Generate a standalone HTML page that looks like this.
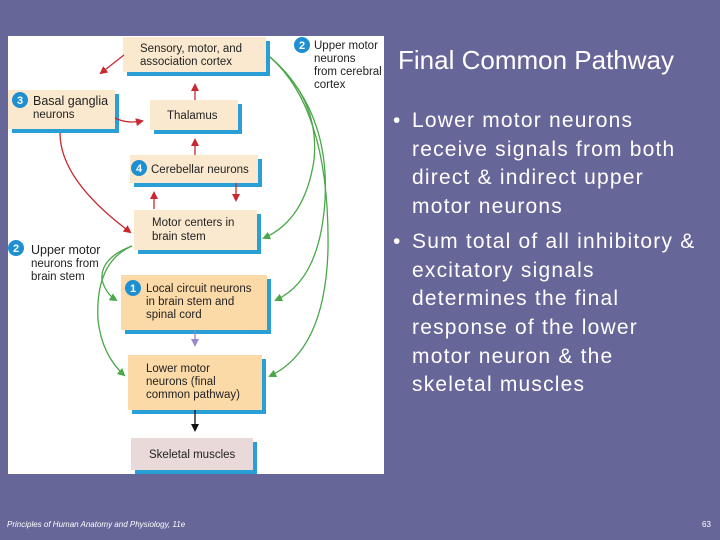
<!DOCTYPE html>
<html><head><style>
body{margin:0;width:720px;height:540px;background:#666699;position:relative;overflow:hidden;font-family:"Liberation Sans",sans-serif}
.t{position:absolute;color:#fff}
ul{position:absolute;left:393px;top:107px;margin:0;padding:0;list-style:none;color:#fff;font-size:21px;line-height:28.7px;width:330px;letter-spacing:1.2px;white-space:nowrap}
li{position:relative;padding-left:19px}
li+li{margin-top:6px}
li:before{content:"•";position:absolute;left:0}
</style></head><body>
<svg width="720" height="540" style="position:absolute;left:0;top:0" font-family="Liberation Sans, sans-serif">
<defs>
<marker id="r" markerWidth="8" markerHeight="8" refX="6" refY="4" orient="auto" markerUnits="userSpaceOnUse"><path d="M0,0 L8,4 L0,8 Z" fill="#c8282e"/></marker>
<marker id="g" markerWidth="8" markerHeight="8" refX="6" refY="4" orient="auto" markerUnits="userSpaceOnUse"><path d="M0,0 L8,4 L0,8 Z" fill="#4aa84a"/></marker>
<marker id="p" markerWidth="8" markerHeight="8" refX="6" refY="4" orient="auto" markerUnits="userSpaceOnUse"><path d="M0,0 L8,4 L0,8 Z" fill="#9a88c8"/></marker>
<marker id="k" markerWidth="8" markerHeight="8" refX="6" refY="4" orient="auto" markerUnits="userSpaceOnUse"><path d="M0,0 L8,4 L0,8 Z" fill="#111"/></marker>
</defs>
<rect x="8" y="36" width="376" height="438" fill="#fff"/>
<g fill="#2a9fd6">
<rect x="127" y="41" width="143" height="35"/>
<rect x="12" y="94" width="107" height="39"/>
<rect x="154" y="104" width="88" height="30"/>
<rect x="134" y="159" width="128" height="28"/>
<rect x="138" y="214" width="123" height="40"/>
<rect x="125" y="279" width="146" height="55"/>
<rect x="132" y="359" width="134" height="55"/>
<rect x="135" y="442" width="122" height="32"/>
</g>
<rect x="123" y="37" width="143" height="35" fill="#fbe9cf"/>
<rect x="8" y="90" width="107" height="39" fill="#fbe9cf"/>
<rect x="150" y="100" width="88" height="30" fill="#fbe9cf"/>
<rect x="130" y="155" width="128" height="28" fill="#fbe9cf"/>
<rect x="134" y="210" width="123" height="40" fill="#fbe9cf"/>
<rect x="121" y="275" width="146" height="55" fill="#fcdaa8"/>
<rect x="128" y="355" width="134" height="55" fill="#fcdaa8"/>
<rect x="131" y="438" width="122" height="32" fill="#e9d9d9"/>
<g font-size="11.5" fill="#222">
<text x="140" y="52">Sensory, motor, and</text>
<text x="140" y="65">association cortex</text>
<text x="33" y="105" font-size="12.5">Basal ganglia</text>
<text x="33" y="118">neurons</text>
<text x="167" y="119">Thalamus</text>
<text x="151" y="173">Cerebellar neurons</text>
<text x="152" y="226">Motor centers in</text>
<text x="152" y="240">brain stem</text>
<text x="146" y="292">Local circuit neurons</text>
<text x="146" y="305">in brain stem and</text>
<text x="146" y="318">spinal cord</text>
<text x="146" y="372">Lower motor</text>
<text x="146" y="385">neurons (final</text>
<text x="146" y="398">common pathway)</text>
<text x="149" y="458">Skeletal muscles</text>
<text x="314" y="49">Upper motor</text>
<text x="314" y="62">neurons</text>
<text x="314" y="75">from cerebral</text>
<text x="314" y="88">cortex</text>
<text x="31" y="254" font-size="12.5">Upper motor</text>
<text x="31" y="267">neurons from</text>
<text x="31" y="280">brain stem</text>
</g>
<g fill="#1e8fd0">
<circle cx="302" cy="45" r="8"/><circle cx="20" cy="100" r="8"/><circle cx="139" cy="168" r="8"/>
<circle cx="16" cy="248" r="8"/><circle cx="133" cy="288" r="8"/>
</g>
<g fill="#fff" font-size="11" font-weight="bold" text-anchor="middle">
<text x="302" y="49">2</text><text x="20" y="104">3</text><text x="139" y="172">4</text><text x="16" y="252">2</text><text x="133" y="292">1</text>
</g>
<g fill="none" stroke-width="1.3">
<path d="M124,55 L101,73" stroke="#c8282e" marker-end="url(#r)"/>
<path d="M115,118 Q127,124 142,121" stroke="#c8282e" marker-end="url(#r)"/>
<path d="M195,100 L195,85" stroke="#c8282e" marker-end="url(#r)"/>
<path d="M195,155 L195,140" stroke="#c8282e" marker-end="url(#r)"/>
<path d="M154,209 L154,193" stroke="#c8282e" marker-end="url(#r)"/>
<path d="M236,183 L236,200" stroke="#c8282e" marker-end="url(#r)"/>
<path d="M60,133 Q60,180 130,232" stroke="#c8282e" marker-end="url(#r)"/>
<path d="M195,331 L195,345" stroke="#9a88c8" marker-end="url(#p)"/>
<path d="M195,410 L195,430" stroke="#111" marker-end="url(#k)"/>
<path d="M270,57 Q320,100 314,160 Q305,220 264,238" stroke="#4aa84a" marker-end="url(#g)"/>
<path d="M270,57 Q330,110 325,200 Q320,280 276,300" stroke="#4aa84a" marker-end="url(#g)"/>
<path d="M270,57 Q330,110 328,250 Q325,350 270,376" stroke="#4aa84a" marker-end="url(#g)"/>
<path d="M132,246 Q100,258 102,280 Q106,294 116,300" stroke="#4aa84a" marker-end="url(#g)"/>
<path d="M132,246 Q95,262 98,320 Q102,355 124,375" stroke="#4aa84a" marker-end="url(#g)"/>
</g>
</svg>
<div class="t" style="left:398px;top:45px;font-size:26px">Final Common Pathway</div>
<ul>
<li>Lower motor neurons<br>receive signals from both<br>direct &amp; indirect upper<br>motor neurons</li>
<li>Sum total of all inhibitory &amp;<br>excitatory signals<br>determines the final<br>response of the lower<br>motor neuron &amp; the<br>skeletal muscles</li>
</ul>
<div class="t" style="left:7px;top:520px;font-size:8px;font-style:italic">Principles of Human Anatomy and Physiology, 11e</div>
<div class="t" style="left:702px;top:520px;font-size:8px">63</div>
</body></html>
